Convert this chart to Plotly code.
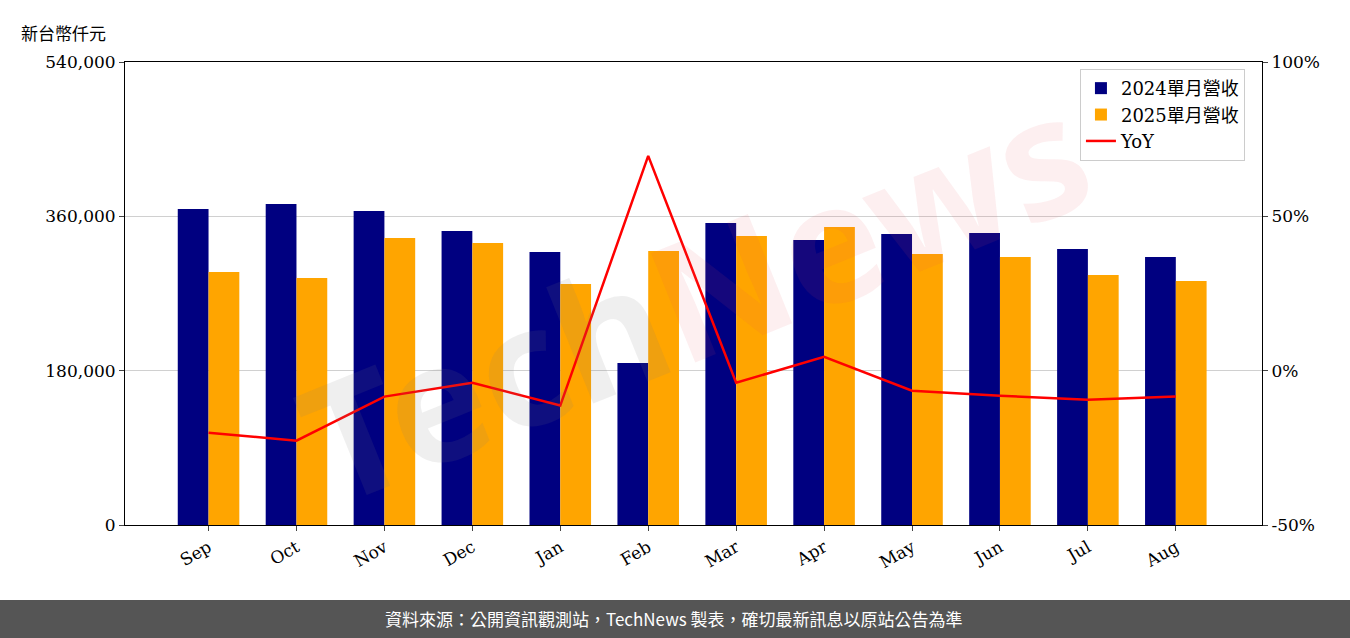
import plotly.graph_objects as go

months = ["Sep", "Oct", "Nov", "Dec", "Jan", "Feb", "Mar", "Apr", "May", "Jun", "Jul", "Aug"]
rev_2024 = [368600, 374400, 366200, 342900, 318400, 188900, 352200, 332400, 339400, 340600, 321900, 312600]
rev_2025 = [295100, 288100, 334700, 328900, 281100, 319600, 337100, 347600, 316100, 312600, 291600, 284600]
yoy = [-20.1, -22.7, -8.4, -3.9, -11.3, 69.6, -3.9, 4.5, -6.5, -8.1, -9.4, -8.4]

serif = "DejaVu Serif"
fig = go.Figure()
fig.add_trace(go.Bar(x=months, y=rev_2024, name="2024單月營收", marker_color="#000080",
                     marker_line_width=0))
fig.add_trace(go.Bar(x=months, y=rev_2025, name="2025單月營收", marker_color="#FFA500",
                     marker_line_width=0))
fig.add_trace(go.Scatter(x=months, y=yoy, name="YoY", mode="lines",
                         line=dict(color="red", width=2.5), yaxis="y2"))

fig.update_layout(
    width=1350, height=638,
    margin=dict(l=125, r=88, t=62, b=113),
    plot_bgcolor="white", paper_bgcolor="white",
    barmode="group", bargap=0.3, bargroupgap=0,
    font=dict(family=serif, size=17, color="black"),
    xaxis=dict(tickangle=-30, showline=True, linecolor="black", mirror=True,
               ticks="outside", tickfont=dict(size=17), range=[-0.95, 11.98]),
    yaxis=dict(range=[0, 540000], tickvals=[0, 180000, 360000, 540000],
               tickformat=",", showgrid=True, gridcolor="#d0d0d0",
               showline=True, linecolor="black", ticks="outside", zeroline=False),
    yaxis2=dict(range=[-50, 100], tickvals=[-50, 0, 50, 100],
                ticktext=["-50%", "0%", "50%", "100%"],
                overlaying="y", side="right", showgrid=False, ticks="outside",
                showline=True, linecolor="black", zeroline=False),
    legend=dict(x=0.985, y=0.985, xanchor="right", yanchor="top",
                bordercolor="#cccccc", borderwidth=1, bgcolor="rgba(255,255,255,0.8)",
                font=dict(size=18, family="DejaVu Serif, Noto Sans CJK TC")),
    shapes=[dict(type="rect", xref="paper", yref="paper",
                 x0=-125/1137, x1=1225/1137, y0=-0.245, y1=-0.162,
                 fillcolor="#555555", line_width=0, layer="below")],
    annotations=[
        dict(text="新台幣仟元", xref="paper", yref="paper", x=-0.093, y=1.095,
             xanchor="left", showarrow=False,
             font=dict(size=17, family="Noto Sans CJK TC")),
        dict(text="資料來源：公開資訊觀測站，TechNews 製表，確切最新訊息以原站公告為準",
             xref="paper", yref="paper", x=0.483, y=-0.203, yanchor="middle",
             showarrow=False,
             font=dict(size=17, color="white", family="Noto Sans CJK TC")),
        dict(text="<span style='color:rgba(120,120,120,0.12)'>Tech</span>"
                  "<span style='color:rgba(230,80,90,0.09)'>News</span>",
             xref="paper", yref="paper", x=0.5, y=0.5, showarrow=False,
             textangle=-22, font=dict(size=165, family="Noto Sans", weight="bold")),
    ],
)
fig.write_html("out.html", config={"displayModeBar": False},
               post_script="document.body.style.margin='0';")
